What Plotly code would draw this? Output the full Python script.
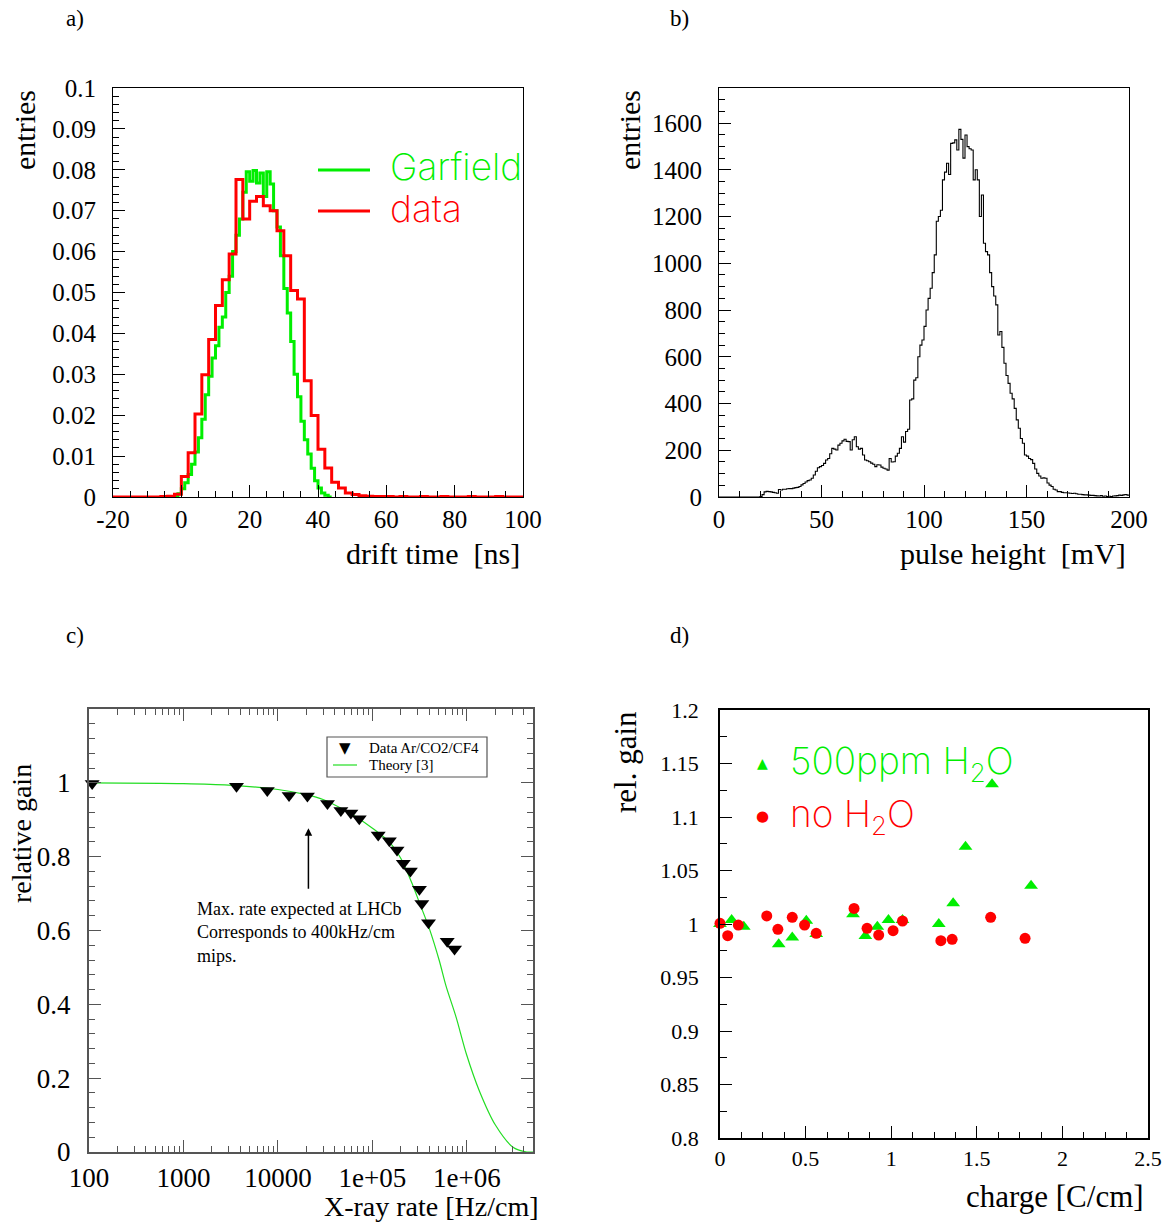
import math
import plotly.graph_objects as go

W, H = 1167, 1223
PAGE_MARGIN = 0  # body margin is removed by the post script below

# ---------------- a) drift time ----------------
red_bin_lo = list(range(-20, 100, 2))
red_vals = [0, 0, 0, 0, 0, 0, 0, 0.0001, 0.0002, 0.0007,
            0.0050, 0.0108, 0.0203, 0.0299, 0.0385, 0.0468, 0.0531, 0.0594, 0.0776, 0.0680,
            0.0723, 0.0735, 0.0712, 0.0700, 0.0651, 0.0590, 0.0505, 0.0484, 0.0284, 0.0199,
            0.0117, 0.0071, 0.0036, 0.0022, 0.0010, 0.0006, 0.0003, 0.0002, 0.0001, 0.0001,
            0.0001, 0, 0.0001, 0, 0, 0.0001, 0, 0, 0.0001, 0,
            0, 0, 0.0001, 0, 0, 0, 0.0001, 0, 0, 0]
red_width = 2

green_bin_lo = list(range(-3, 44))
green_vals = [0, 0.0003, 0.0008, 0.0020, 0.0035, 0.0055, 0.0080, 0.0110, 0.0145, 0.0190,
              0.0250, 0.0295, 0.0340, 0.0370, 0.0415, 0.0440, 0.0500, 0.0540, 0.0600, 0.0640,
              0.0680, 0.0745, 0.0795, 0.0772, 0.0798, 0.0768, 0.0792, 0.0735, 0.0795, 0.0765,
              0.0700, 0.0660, 0.0590, 0.0510, 0.0450, 0.0380, 0.0300, 0.0245, 0.0185, 0.0140,
              0.0105, 0.0070, 0.0040, 0.0022, 0.0010, 0.0004, 0]
green_width = 1
x_ticks_a = [-20, 0, 20, 40, 60, 80, 100]
x_ticktext_a = ["-20", "0", "20", "40", "60", "80", "100"]

# ---------------- b) pulse height ----------------
ph_bin_lo = list(range(0, 200))
ph_counts = [0] * 20 + [
    2, 10, 22, 24, 23, 22, 20, 18, 16, 32,
    30, 33, 33, 35, 36, 36, 38, 40, 41, 45,
    52, 58, 64, 70, 73, 80, 94, 110, 125, 130,
    135, 144, 158, 165, 185, 208, 205, 201, 222, 230,
    240, 247, 238, 237, 201, 245, 258, 215, 205, 208,
    180, 158, 155, 151, 145, 140, 130, 138, 137, 128,
    123, 120, 115, 165, 150, 151, 175, 187, 208, 258,
    235, 280, 290, 415, 420, 500, 510, 600, 650, 672,
    730, 800, 850, 893, 960, 1036, 1180, 1200, 1227, 1357,
    1390, 1428, 1380, 1513, 1515, 1528, 1485, 1573, 1530, 1450,
    1549, 1499, 1490, 1485, 1357, 1400, 1357, 1200, 1292, 1086,
    1050, 1036, 960, 900, 860, 822, 693, 708, 640, 572,
    520, 486, 444, 420, 379, 330, 294, 250, 230, 180,
    175, 165, 160, 144, 120, 101, 90, 80, 82, 80,
    60, 51, 45, 33, 30, 23, 23, 20, 18, 18,
    17, 16, 15, 16, 14, 12, 12, 10, 9, 9,
    8, 7, 7, 6, 5, 4, 6, 3, 4, 2,
    3, 2, 4, 5, 6, 8, 7, 9, 11, 8]
ph_width = 1

# ---------------- c) rate ----------------
rate = [108, 3640, 7710, 13100, 20500, 33400, 46300, 59100, 72500, 115000,
        151000, 182000, 212000, 252000, 314000, 333000, 392000, 618000, 739000]
rel_gain = [0.998, 0.991, 0.979, 0.966, 0.964, 0.944, 0.925, 0.918, 0.903, 0.859,
            0.843, 0.818, 0.782, 0.761, 0.712, 0.673, 0.621, 0.571, 0.550]
theory_rate = [100, 1000, 3000, 10000, 20000, 30000, 50000, 70000, 100000, 150000,
               200000, 260000, 320000, 400000, 510000, 600000, 770000, 990000,
               1360000, 2000000, 3100000, 4300000, 5000000]
theory_gain = [1.0, 0.998, 0.994, 0.982, 0.968, 0.955, 0.927, 0.905, 0.877, 0.840,
               0.795, 0.730, 0.670, 0.605, 0.518, 0.450, 0.364, 0.264,
               0.164, 0.073, 0.012, 0.0, 0.0]
x_ticks_c = [100, 1000, 10000, 100000, 1000000]
x_ticktext_c = ["100", "1000", "10000", "1e+05", "1e+06"]
y_ticks_c = [0, 0.2, 0.4, 0.6, 0.8, 1]
y_ticktext_c = ["0", "0.2", "0.4", "0.6", "0.8", "1"]

# ---------------- d) charge ----------------
q_h2o = [0.0, 0.068, 0.139, 0.343, 0.422, 0.504, 0.562, 0.777, 0.849, 0.919,
         0.984, 1.066, 1.278, 1.362, 1.434, 1.589, 1.817]
g_h2o = [1.000, 1.0037, 0.9975, 0.981, 0.9875, 1.003, 0.9907, 1.009, 0.9888, 0.9975,
         1.0037, 1.0037, 1.000, 1.0193, 1.0723, 1.1305, 1.0358]
q_dry = [0.0, 0.045, 0.107, 0.273, 0.338, 0.422, 0.494, 0.562, 0.783, 0.859,
         0.927, 1.011, 1.066, 1.290, 1.356, 1.581, 1.782]
g_dry = [1.0006, 0.9891, 0.999, 1.0075, 0.995, 1.0062, 0.999, 0.9913, 1.0146, 0.996,
         0.9897, 0.9938, 1.0028, 0.9844, 0.9857, 1.0062, 0.9866]


def steps(lo, vals, width):
    x = list(lo) + [lo[-1] + width]
    y = list(vals) + [vals[-1]]
    return x, y


# screen pixel -> paper coordinate
def px(x):
    return (x - PAGE_MARGIN) / W


def py(y):
    return 1 - (y - PAGE_MARGIN) / H


SERIF = "Liberation Serif, Times New Roman, serif"
THIN = "Inter, Lato, sans-serif"

fig = go.Figure()

gx, gy = steps(green_bin_lo, green_vals, green_width)
rx, ry = steps(red_bin_lo, red_vals, red_width)
fig.add_trace(go.Scatter(x=gx, y=gy, mode="lines", line=dict(color="#00ee00", width=3, shape="hv"),
                         xaxis="x", yaxis="y", showlegend=False))
fig.add_trace(go.Scatter(x=rx, y=ry, mode="lines", line=dict(color="#ff0000", width=3, shape="hv"),
                         xaxis="x", yaxis="y", showlegend=False, cliponaxis=False))

bx, by = steps(ph_bin_lo, ph_counts, ph_width)
fig.add_trace(go.Scatter(x=bx, y=by, mode="lines", line=dict(color="black", width=1.1, shape="hv"),
                         xaxis="x2", yaxis="y2", showlegend=False))

fig.add_trace(go.Scatter(x=theory_rate, y=theory_gain, mode="lines",
                         line=dict(color="#22dd22", width=1.2, shape="spline", smoothing=0.8),
                         xaxis="x3", yaxis="y3", showlegend=False))
fig.add_trace(go.Scatter(x=rate, y=rel_gain, mode="markers",
                         marker=dict(symbol="triangle-down", size=13, color="black"),
                         xaxis="x3", yaxis="y3", showlegend=False, cliponaxis=False))

fig.add_trace(go.Scatter(x=q_h2o, y=g_h2o, mode="markers",
                         marker=dict(symbol="triangle-up", size=12, color="#00ee00"),
                         xaxis="x4", yaxis="y4", showlegend=False, cliponaxis=False))
fig.add_trace(go.Scatter(x=q_dry, y=g_dry, mode="markers",
                         marker=dict(symbol="circle", size=11, color="#ff0000"),
                         xaxis="x4", yaxis="y4", showlegend=False, cliponaxis=False))


def axis(dom, rng, dtick, minor_dtick, lab_size, standoff, lw=1, lc="black", mirror=True,
         ticklen=12, minorlen=6, **kw):
    d = dict(domain=dom, range=rng, showgrid=False, zeroline=False, showline=True,
             automargin=False,
             linecolor=lc, linewidth=lw, mirror=mirror, ticks="inside", ticklen=ticklen,
             tickcolor=lc, tickwidth=1, tickfont=dict(family=SERIF, size=lab_size, color="black"),
             ticklabelstandoff=standoff,
             minor=dict(ticks="inside", ticklen=minorlen, tickcolor=lc, tickwidth=1,
                        showgrid=False))
    if dtick is not None:
        d["dtick"] = dtick
    if minor_dtick is not None:
        d["minor"]["dtick"] = minor_dtick
    d.update(kw)
    return d


fig.update_layout(
    width=W, height=H, margin=dict(l=0, r=0, t=0, b=0, autoexpand=False), autosize=False,
    paper_bgcolor="white", plot_bgcolor="white", showlegend=False,
    xaxis=axis([px(113), px(523)], [-20, 100], None, 5, 25, 0, anchor="y",
               tickmode="array", tickvals=x_ticks_a, ticktext=x_ticktext_a),
    yaxis=axis([py(497), py(88)], [0, 0.1], 0.01, 0.002, 25, 11, anchor="x",
               tickformat=".2~f"),
    xaxis2=axis([px(719), px(1129)], [0, 200], 50, 10, 25, 0, anchor="y2"),
    yaxis2=axis([py(497), py(88)], [0, 1750], 200, 50, 25, 11, anchor="x2"),
    xaxis3=axis([px(89), px(533)], [2, math.log10(5e6)], None, "D1", 27, 1, anchor="y3",
                type="log", tickmode="array", tickvals=x_ticks_c, ticktext=x_ticktext_c,
                lw=2, lc="#555555", mirror="ticks"),
    yaxis3=axis([py(1152), py(709)], [0, 1.2], None, 0.04, 27, 11, anchor="x3",
                tickmode="array", tickvals=y_ticks_c, ticktext=y_ticktext_c,
                lw=2, lc="#555555", mirror="ticks"),
    xaxis4=axis([px(720), px(1148)], [0, 2.5], 0.5, 0.125, 22, 0, anchor="y4", lw=1.5),
    yaxis4=axis([py(1138), py(710)], [0.8, 1.2], 0.05, 0.025, 22, 15, anchor="x4", lw=1.5,
                ticklen=12, minorlen=7),
)

ann = []


def text(x, y, s, size, family=SERIF, color="black", xanchor="left", yanchor="middle",
         angle=0, weight=None):
    f = dict(family=family, size=size, color=color)
    if weight:
        f["weight"] = weight
    ann.append(dict(x=px(x), y=py(y), xref="paper", yref="paper", text=s, showarrow=False,
                    font=f, xanchor=xanchor, yanchor=yanchor, textangle=angle, align="left"))


# panel labels
text(75, 19, "a)", 23, xanchor="center")
text(680, 19, "b)", 23, xanchor="center")
text(75, 636, "c)", 23, xanchor="center")
text(680, 636, "d)", 23, xanchor="center")

# axis titles
text(522, 553, "drift time  [ns]", 30, xanchor="right")
text(24, 130, "entries", 30, xanchor="center", angle=-90)
text(1128, 553, "pulse height  [mV]", 30, xanchor="right")
text(629, 130, "entries", 30, xanchor="center", angle=-90)
text(541, 1206, "X-ray rate [Hz/cm]", 28, xanchor="right")
text(22, 834, "relative gain", 28, xanchor="center", angle=-90)
text(1146, 1196, "charge [C/cm]", 31, xanchor="right")
text(626, 762, "rel. gain", 31, xanchor="center", angle=-90)

# legend a
text(388, 167, "Garfield", 37, family=THIN, color="#00ee00", weight=200)
text(388, 209, "data", 37, family=THIN, color="#ff0000", weight=200)

# legend c
text(345, 748, "\u25BC", 15, family="DejaVu Sans", xanchor="center")
text(367, 748, "Data Ar/CO2/CF4", 15)
text(367, 765, "Theory [3]", 15)

# legend d
text(763, 763, "\u25B2", 14, family="DejaVu Sans", color="#00ee00", xanchor="center")
text(763, 816, "\u25CF", 15, family="DejaVu Sans", color="#ff0000", xanchor="center")
text(788, 763, "500ppm H<sub>2</sub>O", 37, family=THIN, color="#00ee00", weight=200)
text(788, 816, "no H<sub>2</sub>O", 37, family=THIN, color="#ff0000", weight=200)

# annotation c
text(195, 897, "Max. rate expected at LHCb<br>Corresponds to 400kHz/cm<br>mips.", 18,
     yanchor="top")
ann.append(dict(x=math.log10(21000), y=0.877, xref="x3", yref="y3", ax=0, ay=62,
                showarrow=True, arrowhead=2, arrowsize=1, arrowwidth=1.5, arrowcolor="black",
                text=""))

fig.update_layout(annotations=ann)

shapes = [
    dict(type="line", xref="paper", yref="paper", x0=px(318), x1=px(370), y0=py(170), y1=py(170),
         line=dict(color="#00ee00", width=3)),
    dict(type="line", xref="paper", yref="paper", x0=px(318), x1=px(370), y0=py(211), y1=py(211),
         line=dict(color="#ff0000", width=3)),
    dict(type="rect", xref="paper", yref="paper", x0=px(327), x1=px(487), y0=py(737), y1=py(777),
         line=dict(color="#555555", width=1.2), fillcolor="white", layer="below"),
    dict(type="line", xref="paper", yref="paper", x0=px(333), x1=px(357), y0=py(765), y1=py(765),
         line=dict(color="#22dd22", width=1.2)),
]
fig.update_layout(shapes=shapes)

fig.write_html("out.html", config={"displayModeBar": False},
               post_script="document.body.style.margin='0px';"
                           "document.body.style.overflow='hidden';")
